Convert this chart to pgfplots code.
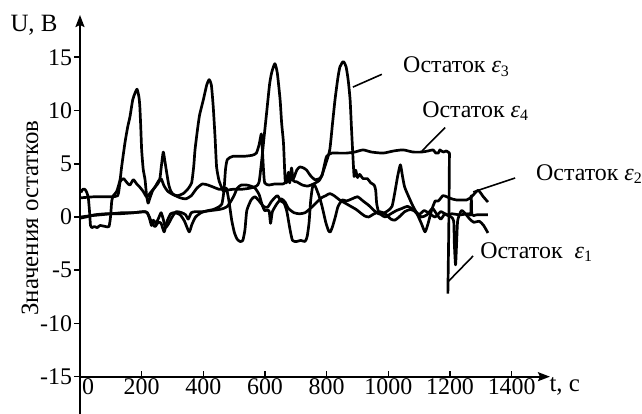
\documentclass[border=0pt]{standalone}
\usepackage{fontspec}
\setmainfont{Liberation Serif}
\usepackage{pgfplots}
\pgfplotsset{compat=1.18}
\usetikzlibrary{arrows.meta}

\begin{document}
\begin{tikzpicture}
\begin{axis}[
  scale only axis,
  width=235bp, height=180.85bp,
  xmin=0, xmax=1524, ymin=-15, ymax=18.97,
  axis x line=bottom, axis y line=left,
  axis line style={line width=0.9pt, -{Stealth[length=6bp, width=4.5bp, inset=1bp]}},
  xtick={200,400,...,1400},
  ytick={-15,-10,...,15},
  xtick align=inside, ytick align=outside,
  major tick length=3bp,
  tick style={line width=0.8pt, black},
  tick label style={font=\fontsize{12}{14}\selectfont},
  xticklabel style={yshift=2.5pt},
  yticklabel style={inner xsep=0.8pt},
  /pgf/number format/assume math mode=true,
  /pgf/number format/set thousands separator={},
  clip=false,
  curve/.style={black, no markers, line width=1.35pt, smooth, tension=0.35, line join=round},
]
% eps3 (peaks)
\addplot[curve] coordinates {(3,2.3) (9,2.6) (16,2.6) (22,2.3) (27,1.8) (31,0.5) (34,-0.8) (38,-1.0) (47,-0.9) (56,-1.0) (65,-0.8) (83,-0.9) (94,-0.9) (99,0.0) (103,1.5) (108,2.0) (119,2.4) (130,3.5) (135,4.7) (146,7.0) (155,8.5) (162,9.4) (171,11.0) (178,11.6) (185,12.0) (191,11.3) (194,10.4) (197,8.5) (200,6.3) (205,4.5) (211,3.5) (216,2.0) (221,1.3) (227,1.8) (236,2.5) (246,2.9) (258,3.4) (264,4.8) (270,6.1) (275,5.3) (281,4.2) (288,3.0) (295,2.4) (304,2.1) (317,2.0) (335,2.2) (349,2.6) (362,3.2) (369,4.8) (373,6.3) (381,8.2) (388,9.6) (400,11.0) (411,12.4) (419,12.9) (426,12.4) (432,10.4) (438,7.5) (443,4.7) (451,3.4) (459,2.8) (465,2.4) (474,2.5) (496,2.6) (523,2.6) (550,2.7) (572,2.9) (581,3.3) (590,5.5) (597,7.5) (606,10.0) (615,12.5) (622,13.6) (632,14.4) (640,13.5) (649,11.0) (654,8.8) (660,6.9) (665,3.6) (669,3.2) (676,4.2) (680,3.2) (686,4.6) (692,3.4) (703,3.3) (721,3.0) (739,2.9) (757,3.1) (775,3.4) (783,3.8) (797,5.0) (810,6.3) (819,8.8) (827,11.0) (836,13.0) (843,14.1) (854,14.6) (863,14.1) (870,12.8) (876,11.0) (880,8.6) (884,6.3) (889,3.8) (894,4.4) (900,3.7) (907,4.0) (918,3.6) (932,3.6) (943,3.2) (954,3.0) (959,2.5) (962,1.3) (968,0.5) (977,0.2) (990,0.0) (1008,0.3) (1026,0.6) (1044,0.8) (1062,1.0) (1080,0.7) (1098,0.2) (1116,0.6) (1134,0.3) (1152,0.0) (1170,0.5) (1188,0.2) (1204,0.0) (1212,-0.4) (1214,-2.5) (1218,-4.5) (1222,-2.0) (1225,-0.3) (1237,0.6) (1250,0.3) (1264,-0.2) (1277,-0.5) (1295,-0.4) (1309,-0.8) (1323,-1.5)};
% eps4 (plateau)
\addplot[curve] coordinates {(3,0.0) (29,0.1) (65,0.2) (101,0.3) (137,0.4) (173,0.4) (213,0.5) (222,0.2) (231,-0.4) (243,-0.9) (254,-0.5) (263,-0.6) (273,-1.4) (281,-0.5) (294,0.3) (308,0.4) (325,0.2) (339,-0.4) (354,-1.4) (363,-0.7) (375,0.0) (393,0.4) (415,0.6) (432,0.7) (447,0.9) (460,1.2) (467,2.5) (472,4.5) (478,5.4) (496,5.7) (532,5.7) (559,5.8) (572,6.0) (581,6.8) (588,7.8) (591,6.6) (595,4.5) (599,3.2) (613,3.0) (631,3.1) (658,3.1) (676,3.4) (692,3.6) (703,4.4) (713,4.7) (725,4.6) (735,4.4) (747,3.9) (762,3.5) (776,3.6) (785,3.9) (792,4.8) (800,5.7) (816,6.0) (837,6.0) (864,6.0) (891,6.1) (918,6.3) (945,6.1) (983,6.0) (1017,6.2) (1048,6.3) (1080,6.1) (1108,6.1) (1129,6.2) (1145,6.3) (1154,6.0) (1162,6.0) (1167,6.3) (1172,6.2) (1179,6.1) (1188,6.2) (1197,6.0) (1198,5.6) (1196,-1.0) (1193,-7.2)};
% eps2
\addplot[curve] coordinates {(3,1.8) (47,1.9) (83,1.9) (122,2.0) (130,3.3) (141,3.6) (153,3.2) (162,3.0) (173,3.5) (184,3.1) (194,2.8) (205,2.4) (216,1.9) (229,2.3) (243,2.8) (255,3.4) (263,3.6) (273,2.9) (285,2.4) (302,2.1) (325,1.8) (343,1.7) (361,2.0) (379,2.7) (397,3.1) (415,3.0) (433,2.8) (451,2.6) (469,2.6) (475,2.7) (483,1.5) (492,-0.3) (501,-1.5) (510,-2.1) (519,-2.3) (528,-2.2) (535,-1.2) (541,0.6) (555,1.6) (567,1.9) (581,1.5) (595,1.0) (608,0.9) (622,1.5) (640,2.0) (651,1.5) (662,1.3) (671,0.5) (680,-1.0) (689,-2.2) (703,-2.3) (716,-2.2) (730,-2.3) (737,-1.8) (743,-0.5) (748,1.5) (754,2.8) (761,3.0) (775,2.0) (785,1.0) (797,-0.5) (806,-1.3) (812,-1.4) (819,-0.9) (828,0.0) (837,1.0) (851,1.6) (864,1.5) (882,1.7) (900,1.9) (918,1.5) (936,1.1) (954,0.6) (968,0.3) (981,0.3) (999,0.6) (1012,1.0) (1021,2.3) (1030,3.8) (1039,4.9) (1046,3.8) (1053,2.8) (1066,1.9) (1080,1.0) (1093,0.3) (1107,-0.6) (1119,-1.4) (1129,-0.6) (1141,0.7) (1152,1.5) (1162,1.5) (1177,2.0) (1189,1.9) (1206,1.7) (1221,1.6) (1254,1.6) (1270,1.9) (1291,2.5) (1308,1.9) (1323,1.4)};
% eps1
\addplot[curve] coordinates {(3,-0.1) (20,0.0) (47,0.2) (83,0.3) (128,0.3) (173,0.4) (209,0.5) (218,0.4) (225,-0.1) (232,-0.8) (238,-0.3) (246,-0.6) (255,-0.1) (263,0.4) (270,-0.2) (277,-1.0) (286,-0.7) (299,0.0) (312,0.5) (330,0.4) (343,0.2) (351,-0.2) (361,0.4) (375,0.5) (397,0.5) (424,0.6) (451,0.7) (465,0.8) (478,1.0) (492,1.6) (501,2.1) (510,2.7) (523,3.0) (541,3.0) (554,2.9) (568,2.7) (581,2.1) (590,1.2) (599,0.6) (613,0.6) (618,-0.6) (624,0.5) (640,1.3) (653,1.7) (665,1.4) (676,0.8) (694,0.4) (712,0.3) (730,0.4) (747,0.8) (765,1.3) (783,1.8) (797,2.0) (810,2.2) (824,2.0) (842,1.6) (860,1.3) (878,1.0) (896,0.7) (909,0.4) (923,0.1) (936,0.0) (954,0.3) (972,0.5) (990,0.3) (1008,-0.2) (1021,-0.3) (1035,0.0) (1053,0.5) (1071,0.7) (1089,0.5) (1107,0.0) (1125,0.2) (1143,0.8) (1156,0.3) (1170,-0.2) (1183,0.3) (1192,0.2) (1206,0.3) (1232,0.2) (1259,0.3) (1267,0.2) (1269,2.0) (1271,0.2) (1286,0.2) (1323,0.2)};

% leaders
\draw[line width=0.8pt] (axis cs:885,12.2) -- (axis cs:979,13.4);
\draw[line width=0.8pt] (axis cs:1109,6.2) -- (axis cs:1184,8.4);
\draw[line width=0.8pt] (axis cs:1275,2.35) -- (axis cs:1411,3.66);
\draw[line width=0.8pt] (axis cs:1193,-6.1) -- (axis cs:1275,-3.66);

\begin{scope}[every node/.style={font=\fontsize{12}{14}\selectfont, inner sep=0pt}]
\node[anchor=west] at (axis cs:1047,14.1) {Остаток \textit{ε}\textsubscript{3}};
\node[anchor=west] at (axis cs:1109,9.95) {Остаток \textit{ε}\textsubscript{4}};
\node[anchor=west] at (axis cs:1478,4.04) {Остаток \textit{ε}\textsubscript{2}};
\node[anchor=west] at (axis cs:1297,-3.3) {Остаток\ \ \textit{ε}\textsubscript{1}};
\end{scope}
\begin{scope}[every node/.style={font=\fontsize{12.5}{14}\selectfont, inner sep=0pt}]
\node at (axis cs:-149,18.0) {U, B};
\node[rotate=90] at (axis cs:-162,-0.1) {Значения остатков};
\node at (axis cs:1572,-15.9) {t, c};
\end{scope}
\node[font=\fontsize{12}{14}\selectfont, inner sep=0pt] at (axis cs:26,-15.95) {0};

\draw[line width=0.9pt] (axis cs:0,-15) -- (axis cs:0,-18.5);
\coordinate (bbsw) at (axis cs:-259.4,-18.5);
\coordinate (bbne) at (axis cs:1822.6,20.38);
\end{axis}
\pgfresetboundingbox
\path[use as bounding box] (bbsw) rectangle (bbne);
\end{tikzpicture}
\end{document}
